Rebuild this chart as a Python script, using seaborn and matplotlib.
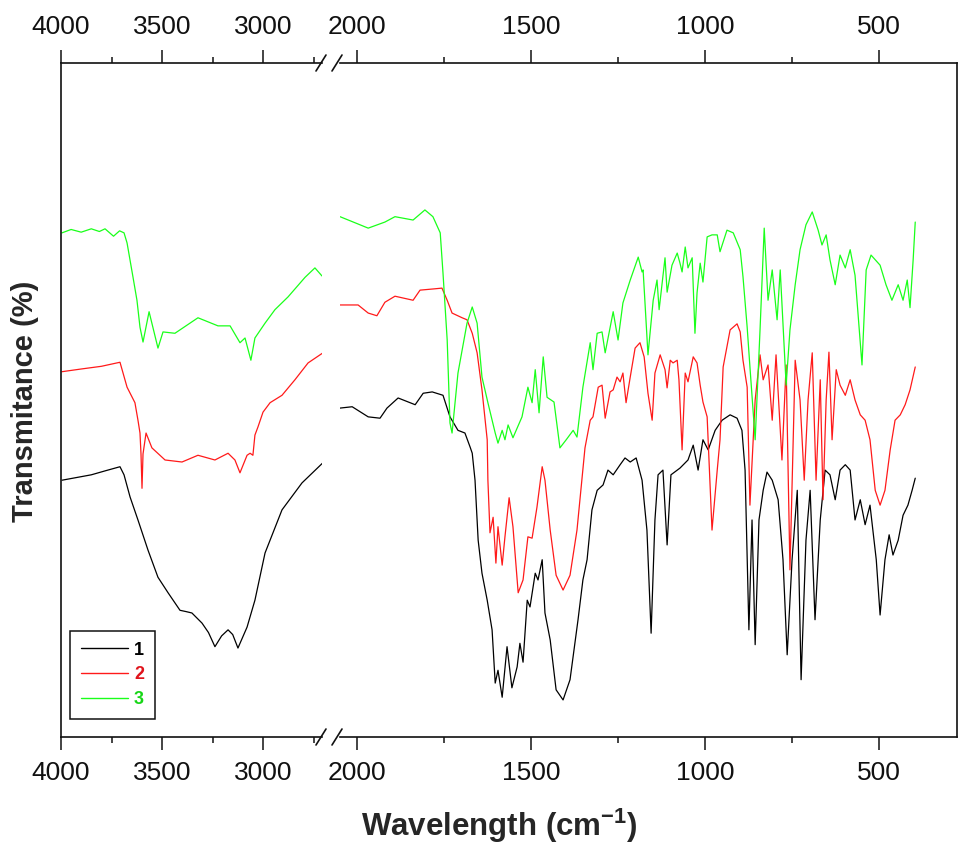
import matplotlib
matplotlib.use("Agg")
import matplotlib.pyplot as plt
from matplotlib.lines import Line2D
import numpy as np
import pandas as pd
import seaborn as sns

# ---- FTIR spectra (wavenumber in cm-1, transmittance in arbitrary % units) ----
wn_1 = [3995, 3850, 3780, 3708, 3688, 3658, 3619, 3569, 3520, 3470, 3411, 3380, 3352,
        3302, 3270, 3238, 3205, 3173, 3150, 3124, 3079, 3040, 2990, 2906, 2807, 2703,
        2049, 2014, 1968, 1934, 1914, 1882, 1833, 1810, 1784, 1753, 1733, 1710, 1690,
        1675, 1669, 1661, 1652, 1641, 1626, 1612, 1603, 1595, 1583, 1569, 1555, 1540,
        1532, 1523, 1511, 1503, 1488, 1480, 1468, 1460, 1445, 1428, 1408, 1388, 1365,
        1351, 1339, 1325, 1310, 1293, 1279, 1264, 1244, 1230, 1215, 1198, 1181, 1167,
        1155, 1144, 1135, 1121, 1109, 1098, 1072, 1049, 1034, 1020, 1006, 991, 971,
        951, 928, 908, 894, 885, 874, 865, 856, 845, 833, 822, 807, 790, 776, 764,
        750, 735, 724, 710, 698, 684, 669, 655, 641, 626, 612, 597, 583, 569, 554,
        540, 526, 508, 497, 483, 471, 460, 445, 431, 417, 405, 396]
t_1 = [38.1, 38.9, 39.5, 40.1, 38.9, 35.6, 32.2, 27.7, 23.7, 21.4, 18.8, 18.6, 18.4,
       16.9, 15.5, 13.4, 15.0, 15.9, 15.2, 13.2, 16.3, 20.3, 27.3, 33.7, 37.7, 40.7,
       48.8, 49.0, 47.5, 47.3, 48.8, 50.3, 49.3, 51.0, 51.2, 50.7, 47.5, 45.5, 45.1,
       43.0, 42.1, 38.1, 29.2, 24.3, 20.3, 15.9, 8.0, 9.9, 5.9, 13.4, 7.3, 10.4,
       13.9, 11.1, 20.3, 19.3, 24.3, 23.3, 26.3, 18.4, 14.4, 7.0, 5.5, 8.5, 17.4,
       23.3, 26.3, 33.7, 36.6, 37.4, 39.6, 38.9, 40.4, 41.4, 40.8, 41.4, 38.1, 30.7,
       15.4, 32.2, 38.9, 39.6, 28.5, 38.9, 39.9, 41.1, 43.3, 39.6, 44.1, 42.6, 45.5,
       47.0, 47.8, 47.3, 45.5, 39.6, 15.9, 32.2, 13.7, 32.2, 36.6, 39.3, 38.1, 35.2,
       26.3, 12.2, 26.3, 36.6, 8.5, 29.2, 36.6, 17.4, 32.2, 39.6, 38.9, 35.2, 39.6,
       40.4, 39.6, 32.2, 35.2, 31.5, 34.4, 26.3, 18.1, 26.3, 30.0, 27.0, 29.2, 32.9,
       34.4, 36.6, 38.4]

wn_2 = [3995, 3900, 3800, 3708, 3673, 3634, 3619, 3609, 3604, 3599, 3594, 3579, 3550,
        3485, 3401, 3322, 3238, 3173, 3139, 3114, 3079, 3064, 3050, 3040, 3025, 3000,
        2965, 2906, 2842, 2777, 2703,
        2049, 1997, 1968, 1943, 1920, 1891, 1839, 1819, 1776, 1756, 1741, 1727, 1698,
        1684, 1669, 1655, 1641, 1626, 1624, 1618, 1609, 1601, 1595, 1583, 1575, 1563,
        1552, 1537, 1523, 1509, 1497, 1483, 1468, 1460, 1445, 1428, 1408, 1388, 1368,
        1345, 1330, 1322, 1307, 1296, 1287, 1273, 1264, 1253, 1244, 1236, 1227, 1215,
        1201, 1187, 1175, 1164, 1152, 1144, 1129, 1115, 1109, 1100, 1092, 1080, 1075,
        1066, 1057, 1049, 1034, 1023, 1014, 1006, 994, 980, 965, 957, 948, 928, 908,
        899, 891, 879, 871, 856, 842, 833, 819, 807, 796, 779, 767, 756, 741, 727,
        715, 704, 692, 681, 669, 661, 652, 644, 635, 623, 612, 597, 583, 569, 554,
        540, 526, 511, 497, 483, 468, 454, 439, 425, 411, 396]
t_2 = [54.2, 54.6, 55.0, 55.6, 51.9, 49.6, 47.0, 45.1, 42.0, 36.9, 42.0, 45.1, 42.9,
       41.1, 40.8, 41.8, 41.1, 42.1, 41.1, 39.2, 41.8, 42.1, 41.8, 44.8, 46.0, 48.2,
       49.6, 50.7, 53.0, 55.5, 57.0,
       64.1, 64.1, 62.9, 62.5, 64.5, 65.4, 64.8, 66.3, 66.5, 66.6, 64.8, 62.9, 62.2,
       61.9, 59.9, 57.0, 51.5, 44.1, 38.1, 30.3, 32.6, 25.8, 31.2, 25.5, 29.7, 35.5,
       31.2, 21.4, 23.3, 29.7, 29.5, 34.1, 40.1, 38.1, 30.7, 24.0, 21.8, 24.0, 30.7,
       42.9, 47.0, 47.5, 51.9, 52.2, 47.3, 51.2, 51.5, 53.4, 52.7, 54.0, 49.6, 53.4,
       57.7, 58.5, 56.4, 51.0, 47.0, 54.0, 56.7, 54.5, 51.8, 55.9, 55.5, 55.9, 53.0,
       42.6, 54.0, 52.7, 56.4, 55.5, 52.2, 49.7, 47.5, 30.7, 39.6, 44.1, 54.9, 60.4, 61.3,
       60.1, 55.9, 51.9, 34.4, 50.0, 56.7, 53.0, 55.2, 47.0, 56.7, 41.1, 55.2, 24.8, 55.9, 50.0,
       38.1, 50.0, 57.0, 38.1, 53.0, 35.2, 50.0, 57.1, 44.1, 54.5, 52.2, 50.7, 53.0, 50.0, 47.8,
       47.0, 44.1, 36.6, 34.4, 36.6, 42.6, 47.0, 47.8, 49.3, 51.5, 54.9]

wn_3 = [3995, 3950, 3900, 3850, 3810, 3782, 3740, 3710, 3688, 3673, 3644, 3624, 3609,
        3594, 3564, 3520, 3495, 3436, 3322, 3223, 3163, 3114, 3089, 3060, 3040, 2990,
        2941, 2876, 2792, 2743, 2708,
        2049, 2006, 1968, 1920, 1891, 1839, 1805, 1782, 1761, 1753, 1741, 1733, 1727,
        1710, 1684, 1669, 1655, 1641, 1624, 1603, 1595, 1583, 1575, 1566, 1552, 1526,
        1509, 1497, 1488, 1477, 1465, 1454, 1434, 1417, 1399, 1379, 1368, 1351, 1330,
        1322, 1310, 1296, 1287, 1264, 1250, 1236, 1215, 1192, 1181, 1178, 1164, 1149,
        1138, 1132, 1115, 1109, 1095, 1080, 1072, 1066, 1057, 1049, 1037, 1029, 1023,
        1014, 1006, 994, 980, 965, 957, 937, 919, 899, 891, 879, 871, 856, 842, 830,
        819, 807, 793, 784, 767, 756, 741, 727, 710, 692, 675, 664, 652, 641, 626,
        612, 597, 583, 569, 549, 537, 523, 497, 480, 463, 445, 431, 419, 411, 402, 396]
t_3 = [74.8, 75.3, 74.9, 75.4, 75.0, 75.4, 74.3, 75.1, 74.8, 73.3, 68.3, 64.8, 60.8,
       58.6, 63.1, 57.7, 60.1, 59.9, 62.2, 61.0, 61.0, 58.5, 59.2, 55.9, 59.2, 61.4,
       63.4, 65.3, 68.2, 69.6, 68.4,
       77.2, 76.3, 75.5, 76.4, 77.2, 76.7, 78.2, 77.2, 74.8, 68.8, 58.9, 46.6, 45.1,
       54.0, 61.4, 63.8, 61.4, 53.4, 49.6, 45.1, 43.6, 45.5, 44.1, 46.3, 44.4, 47.5,
       51.9, 49.6, 54.5, 48.1, 56.4, 50.4, 49.7, 42.9, 44.1, 45.5, 44.5, 51.9, 58.5,
       54.5, 59.9, 60.1, 57.0, 63.1, 58.9, 64.4, 67.8, 71.2, 69.0, 69.3, 56.7, 64.8,
       67.8, 63.4, 71.1, 66.0, 70.0, 71.8, 70.3, 69.0, 72.7, 69.6, 71.1, 59.9, 65.9,
       70.3, 67.5, 74.2, 74.5, 74.5, 72.0, 75.2, 74.8, 72.3, 68.3, 60.8, 54.9, 44.1, 60.4, 75.5,
       64.8, 69.3, 61.9, 69.3, 52.2, 60.4, 67.1, 72.3, 76.0, 77.9, 75.2, 73.0, 74.5, 70.8, 67.1,
       71.5, 69.6, 72.3, 68.5, 55.2, 69.3, 71.5, 70.0, 67.1, 64.8, 67.1, 64.8, 67.8, 63.7, 70.8, 76.4]

samples = ["1", "2", "3"]
line_colors = {"1": "#000000", "2": "#ff1a1a", "3": "#1aff1a"}
text_colors = {"1": "#000000", "2": "#e0141c", "3": "#16d616"}

frames = []
for name, wn, tr in zip(samples, [wn_1, wn_2, wn_3], [t_1, t_2, t_3]):
    d = pd.DataFrame({"wavenumber": wn, "transmittance": tr})
    d["sample"] = name
    frames.append(d)
df = pd.concat(frames, ignore_index=True)
df["region"] = np.where(df["wavenumber"] > 2400, "high", "low")

sns.set_style("white")
plt.rcParams["font.family"] = ["Liberation Sans", "DejaVu Sans"]
plt.rcParams["mathtext.fontset"] = "custom"
plt.rcParams["mathtext.rm"] = "Liberation Sans:bold"
plt.rcParams["mathtext.bf"] = "Liberation Sans:bold"
plt.rcParams["mathtext.default"] = "bf"

W, H = 959, 846
fig = plt.figure(figsize=(W / 100, H / 100), dpi=100)
ax_l = fig.add_axes([61 / W, 1 - 737 / H, 261 / W, 674 / H])
ax_r = fig.add_axes([340 / W, 1 - 737 / H, 617 / W, 674 / H])

for ax, region in [(ax_l, "high"), (ax_r, "low")]:
    sub = df[df["region"] == region]
    sns.lineplot(data=sub, x="wavenumber", y="transmittance", hue="sample",
                 palette=line_colors, estimator=None, sort=False, lw=0.9,
                 legend=False, ax=ax)
    ax.set_ylim(0, 100)
    ax.set_yticks([])
    ax.set_xlabel("")
    ax.set_ylabel("")
    ax.tick_params(axis="x", which="both", direction="out", top=True, bottom=True,
                   labeltop=True, labelbottom=True, labelsize=19, width=1.1, pad=8,
                   colors="#111111")
    ax.tick_params(axis="x", which="major", length=9.5)
    ax.tick_params(axis="x", which="minor", length=4.5)
    for s in ax.spines.values():
        s.set_linewidth(1.2)
        s.set_color("#111111")

ax_l.set_xlim(4000, 2708)
ax_l.set_xticks([4000, 3500, 3000])
ax_l.set_xticks([3750, 3250, 2750], minor=True)
ax_l.spines["right"].set_visible(False)

ax_r.set_xlim(2049, 276)
ax_r.set_xticks([2000, 1500, 1000, 500])
ax_r.set_xticks([1750, 1250, 750], minor=True)
ax_r.spines["left"].set_visible(False)

# axis-break slashes on top and bottom spines
for ypix in (63, 737):
    for cx in (321, 337):
        fig.add_artist(Line2D([(cx - 5) / W, (cx + 5) / W],
                              [1 - (ypix + 8) / H, 1 - (ypix - 8) / H],
                              transform=fig.transFigure, color="#111111", lw=1.2))

handles = [Line2D([], [], color=line_colors[s], lw=1.0) for s in samples]
leg = ax_l.legend(handles, samples, loc="lower left", bbox_to_anchor=(0.034, 0.027),
                  frameon=True, fancybox=False, edgecolor="#111111", framealpha=1,
                  prop={"weight": "bold", "size": 13}, handlelength=2.6,
                  labelspacing=0.42, borderpad=0.6, handletextpad=0.35,
                  borderaxespad=0)
leg.get_frame().set_linewidth(1.1)
for txt, s in zip(leg.get_texts(), samples):
    txt.set_color(text_colors[s])

fig.text(499 / W, 1 - 826 / H, "Wavelength (cm$^{-1}$)", ha="center", va="center",
         fontsize=22.5, fontweight="bold")
fig.text(25 / W, 1 - 401 / H, "Transmitance (%)", ha="center", va="center",
         rotation=90, fontsize=21, fontweight="bold")

fig.savefig("out.png", dpi=100, facecolor="white")
